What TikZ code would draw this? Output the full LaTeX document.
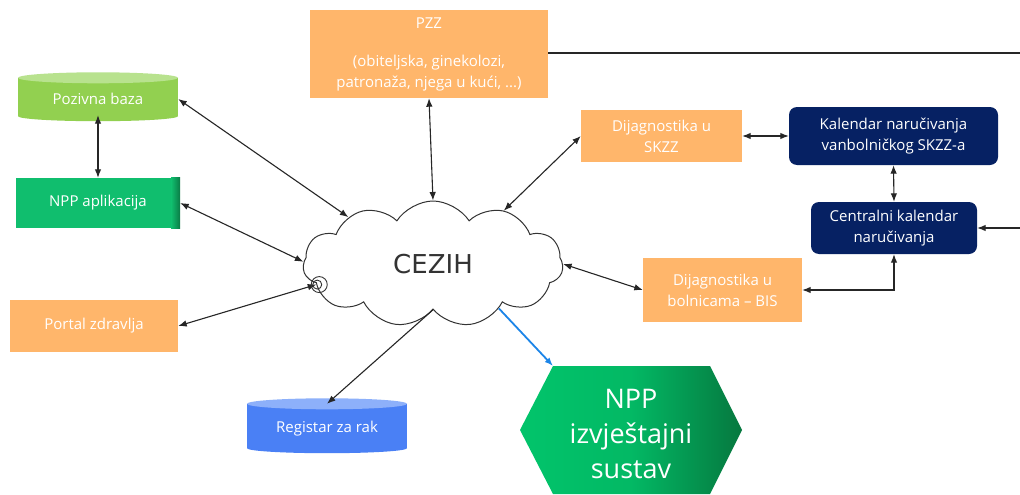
\documentclass[tikz,border=0pt]{standalone}
\usepackage{fontspec}
\setmainfont{Open Sans}
\newfontfamily\cezfont{DejaVu Sans}
\usetikzlibrary{shapes.symbols,arrows.meta,backgrounds,calc}
\definecolor{orng}{HTML}{FFB66B}
\definecolor{navy}{HTML}{062163}
\definecolor{lgreen}{HTML}{92D050}
\definecolor{lgreentop}{HTML}{B8E28E}
\definecolor{appgreen}{HTML}{10BE6E}
\definecolor{appdark}{HTML}{0A7A45}
\definecolor{regblue}{HTML}{4A80F5}
\definecolor{regtop}{HTML}{8DB0FA}
\definecolor{hexl}{HTML}{02C46B}
\definecolor{hexr}{HTML}{06783F}
\definecolor{linec}{HTML}{262626}
\definecolor{arrblue}{HTML}{1C85E8}
\definecolor{cloudline}{HTML}{333333}
\tikzset{
  box/.style={draw=none, text=white, align=center, inner sep=0pt,
    font=\fontsize{15}{21}\selectfont},
  orangebox/.style={box, fill=orng},
  navybox/.style={box, fill=navy, rounded corners=8pt},
  arr/.style={draw=linec, line width=1.1pt,
    {Latex[length=8.5pt,width=6.5pt]}-{Latex[length=8.5pt,width=6.5pt]}},
  arrone/.style={draw=linec, line width=1.1pt, -{Latex[length=8.5pt,width=6.5pt]}},
}
\begin{document}
\begin{tikzpicture}[x=1pt,y=-1pt]
\useasboundingbox (0,0) rectangle (1020,495);

% nodes
\node[box, minimum width=160, minimum height=32] (poz) at (98,99) {Pozivna baza};
\node[box, fill=appgreen, minimum width=164, minimum height=50] (app) at (98,203) {NPP aplikacija};
\node[orangebox, minimum width=168, minimum height=52] (portal) at (94,326) {Portal zdravlja};
\node[orangebox, minimum width=238, minimum height=88] (pzz) at (429,54)
  {PZZ\\[17pt]\fontsize{15}{20}\selectfont (obiteljska, ginekolozi,\\ patronaža, njega u kući, ...)};
\node[orangebox, minimum width=161, minimum height=52] (skzz) at (661.5,136) {Dijagnostika u\\ SKZZ};
\node[navybox, minimum width=209, minimum height=58] (kal) at (893.5,136) {Kalendar naručivanja\\ vanbolničkog SKZZ-a};
\node[navybox, minimum width=166, minimum height=52] (cen) at (894,228) {Centralni kalendar\\ naručivanja};
\node[orangebox, minimum width=159, minimum height=64] (bis) at (722.5,290) {Dijagnostika u\\ bolnicama -- BIS};
\node[box, minimum width=160, minimum height=38] (reg) at (327,429) {Registar za rak};

\node[cloud, cloud puffs=11, cloud puff arc=115, aspect=2.1, draw=cloudline, line width=1pt,
  fill=white, minimum width=260, minimum height=126, text=cloudline,
  font=\cezfont\fontsize{26}{30}\selectfont] (cezih) at (433,264) {CEZIH};

% hexagon
\coordinate (hexTL) at (553,366);
\coordinate (hexTR) at (710,366);
\coordinate (hexR) at (742,430);
\coordinate (hexBR) at (710,494);
\coordinate (hexBL) at (553,494);
\coordinate (hexL) at (520,430);
\shade[left color=hexl, right color=hexr, middle color=hexl!85!hexr]
  (hexTL) -- (hexTR) -- (hexR) -- (hexBR) -- (hexBL) -- (hexL) -- cycle;
\node[box, font=\fontsize{27}{35}\selectfont] (hex) at (631,434) {NPP\\ izvještajni\\ sustav};

% cylinder and box backgrounds
\begin{scope}[on background layer]
  \fill[white] (0,0) rectangle (1020,495);
  \fill[lgreen] ([yshift=-1pt]poz.south) ellipse [x radius=80pt, y radius=5pt];
  \fill[lgreen] ([yshift=5pt]poz.north west) rectangle ([yshift=-1pt]poz.south east);
  \fill[lgreentop] ([yshift=5pt]poz.north) ellipse [x radius=80pt, y radius=5.5pt];
  \fill[regblue] (reg.south) ellipse [x radius=80pt, y radius=5pt];
  \fill[regblue] ([yshift=6pt]reg.north west) rectangle (reg.south east);
  \fill[regtop] ([yshift=6pt]reg.north) ellipse [x radius=80pt, y radius=5.5pt];
\end{scope}
\shade[left color=appgreen, right color=appdark] ([xshift=-9pt]app.north east) rectangle (app.south east);

% connectors
\draw[arr] (poz.south) -- (app.north);
\draw[arr] (poz.east) -- (cezih.151);
\draw[arr] (app.east) -- (cezih.179);
\draw[arr] (portal.east) -- (cezih.190);
\draw[arr] (pzz.south) -- (cezih.north);
\draw[arr] (skzz.west) -- (cezih.37);
\draw[arr] (cezih.east) -- (bis.west);
\draw[arr] (skzz.east) -- (kal.west);
\draw[arr] (kal.south) -- (cen.north);
\draw[arr] (bis.east) -| (cen.south);
\coordinate (rightin) at (1020,228);
\draw[arrone] (rightin) -- (cen.east);
\coordinate (rightout) at (1020,53);
\draw[draw=linec, line width=1.1pt] (pzz.east |- rightout) -- (rightout);
\draw[arrone] (cezih.south) -- ([yshift=6pt]reg.north);
\draw[draw=arrblue, line width=1.8pt, -{Latex[length=8.5pt,width=6.5pt]}] (cezih.326) -- (hexTL);

% small circle glyph at CEZIH border
\draw[cloudline, line width=0.9pt] ([xshift=3pt]cezih.190) circle [radius=8pt];
\draw[cloudline, line width=0.9pt] ([xshift=1pt]cezih.190) circle [radius=4.5pt];
\end{tikzpicture}
\end{document}
